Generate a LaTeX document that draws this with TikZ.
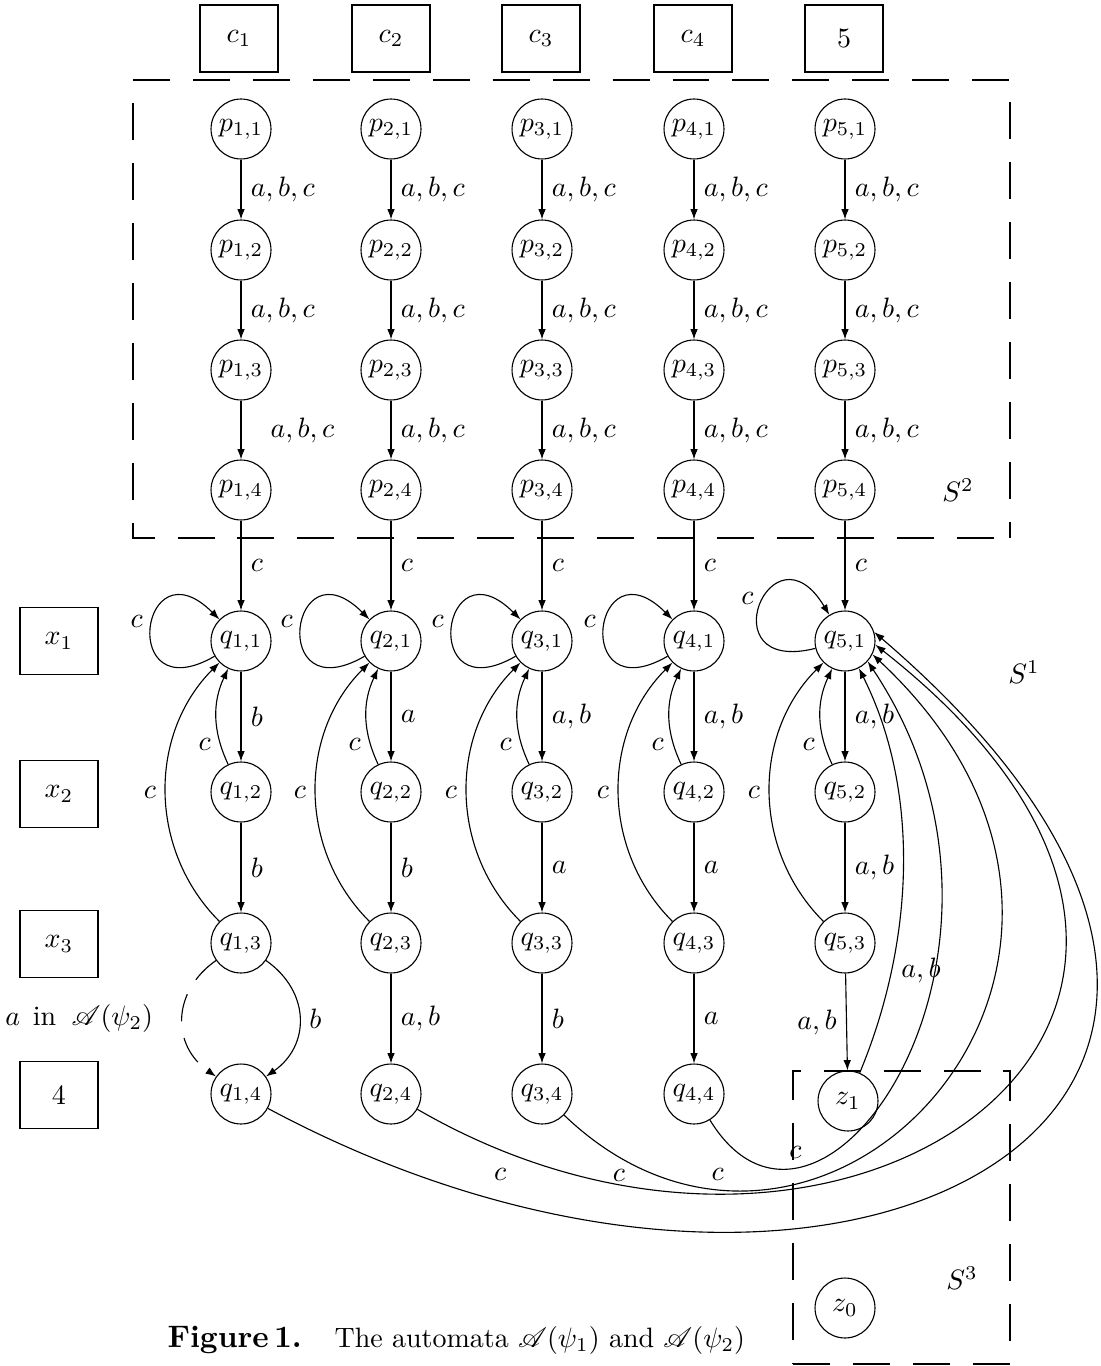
\documentclass[tikz,border=0pt]{standalone}
\usepackage{mathrsfs}
\usetikzlibrary{arrows.meta}
\begin{document}
\begin{tikzpicture}[x=0.357pt,y=-0.357pt,
  state/.style={circle,draw,minimum size=21.4pt,inner sep=0pt},
  sqbox/.style={draw,minimum width=27.85pt,minimum height=23.9pt,inner sep=0pt},
  tr/.style={-{Latex[length=3.7pt,width=2.7pt]}},
  dashbox/.style={dash pattern=on 13.2pt off 8.2pt},
  dashcurve/.style={dash pattern=on 10pt off 6pt}
]
\useasboundingbox (0,0) rectangle (1100,1366);

% top and left boxes
\node[sqbox] (c1) at (239,38.5) {$c_1$};
\node[sqbox] (c2) at (391,38.5) {$c_2$};
\node[sqbox] (c3) at (541,38.5) {$c_3$};
\node[sqbox] (c4) at (693,38.5) {$c_4$};
\node[sqbox] (c5) at (844,38.5) {5};
\node[sqbox] (x1) at (59,641) {$x_1$};
\node[sqbox] (x2) at (59,794) {$x_2$};
\node[sqbox] (x3) at (59,944) {$x_3$};
\node[sqbox] (x4) at (59,1095) {4};

% states
\foreach \i/\x in {1/241,2/391,3/542,4/694,5/845}{
  \node[state] (p\i1) at (\x,129) {$p_{\i,1}$};
  \node[state] (p\i2) at (\x,250) {$p_{\i,2}$};
  \node[state] (p\i3) at (\x,370) {$p_{\i,3}$};
  \node[state] (p\i4) at (\x,490) {$p_{\i,4}$};
  \node[state] (q\i1) at (\x,641) {$q_{\i,1}$};
  \node[state] (q\i2) at (\x,792) {$q_{\i,2}$};
  \node[state] (q\i3) at (\x,943) {$q_{\i,3}$};
}
\foreach \i/\x in {1/241,2/391,3/542,4/694}{
  \node[state] (q\i4) at (\x,1094) {$q_{\i,4}$};
}
\node[state] (z1) at (848,1101) {$z_1$};
\node[state] (z0) at (845,1308) {$z_0$};

% dashed regions
\draw[dashbox] (133,80) -- (1010,80) -- (1010,538);
\draw[dashbox,dash phase=13.2pt] (133,80) -- (133,538) -- (1010,538);
\draw[dashbox] (793,1364) -- (1010,1364) -- (1010,1071) -- (793,1071) -- cycle;
\node at (958,490) {$S^2$};
\node at (1024,672) {$S^1$};
\node at (962,1278) {$S^3$};

% p chains
\foreach \i in {1,...,5}{
  \draw[tr] (p\i1) -- node[right]{$a,b,c$} (p\i2);
  \draw[tr] (p\i2) -- node[right]{$a,b,c$} (p\i3);
  \draw[tr] (p\i4) -- node[right]{$c$} (q\i1);
}
\draw[tr] (p13) -- node[right,xshift=7pt]{$a,b,c$} (p14);
\foreach \i in {2,...,5}{
  \draw[tr] (p\i3) -- node[right]{$a,b,c$} (p\i4);
}

% loops and back edges
\foreach \i in {1,...,4}{
  \draw[tr] (q\i1) to[out=210,in=135,looseness=1,min distance=40pt] node[pos=0.55,left]{$c$} (q\i1);
}
\draw[tr] (q51) to[out=194,in=121,looseness=1,min distance=40pt] node[pos=0.55,left]{$c$} (q51);
\foreach \i in {1,...,5}{
  \draw[tr] (q\i2) to[bend left=25] node[pos=0.2,left]{$c$} (q\i1);
  \draw[tr] (q\i3) to[bend left=45] node[left]{$c$} (q\i1);
}

% forward q edges
\draw[tr] (q11) -- node[right]{$b$} (q12);
\draw[tr] (q12) -- node[right]{$b$} (q13);
\draw[tr] (q13) to[bend left=55,looseness=1.2] node[right]{$b$} (q14);
\draw[tr,dashcurve] (q13) to[bend right=55,looseness=1.2] node[left=7pt]{$a$\hspace{4.5pt}in\hspace{5.5pt}$\mathscr{A}(\psi_2)$} (q14);

\draw[tr] (q21) -- node[right]{$a$} (q22);
\draw[tr] (q22) -- node[right]{$b$} (q23);
\draw[tr] (q23) -- node[right]{$a,b$} (q24);

\draw[tr] (q31) -- node[right]{$a,b$} (q32);
\draw[tr] (q32) -- node[right]{$a$} (q33);
\draw[tr] (q33) -- node[right]{$b$} (q34);

\draw[tr] (q41) -- node[right]{$a,b$} (q42);
\draw[tr] (q42) -- node[right]{$a$} (q43);
\draw[tr] (q43) -- node[right]{$a$} (q44);

\draw[tr] (q51) -- node[right]{$a,b$} (q52);
\draw[tr] (q52) -- node[right]{$a,b$} (q53);
\draw[tr] (q53) -- node[left]{$a,b$} (z1);

% long c edges into q51
\draw[tr] (q14) .. controls (850,1420) and (1420,1100) .. node[pos=0.135,above=4pt]{$c$} (q51.17);
\draw[tr] (q24) .. controls (850,1360) and (1340,1010) .. node[pos=0.155,above,inner sep=1pt]{$c$} (q51.-7);
\draw[tr] (q34) .. controls (820,1360) and (1200,960) .. node[pos=0.19,above]{$c$} (q51.-26);
\draw[tr] (q44) .. controls (820,1300) and (1060,950) .. node[pos=0.22,above]{$c$} (q51.-42);
\draw[tr] (z1) .. controls (915,940) and (920,790) .. node[pos=0.25,right]{$a,b$} (q51.-63);

% caption
\node[anchor=west,inner sep=0pt] (cap1) at (167,1340) {\scalebox{1.11}{\textbf{Figure\,1.}}};
\node[anchor=west,inner sep=0pt] (cap2) at (334,1340) {The automata $\mathscr{A}(\psi_1)$ and $\mathscr{A}(\psi_2)$};
\end{tikzpicture}
\end{document}
